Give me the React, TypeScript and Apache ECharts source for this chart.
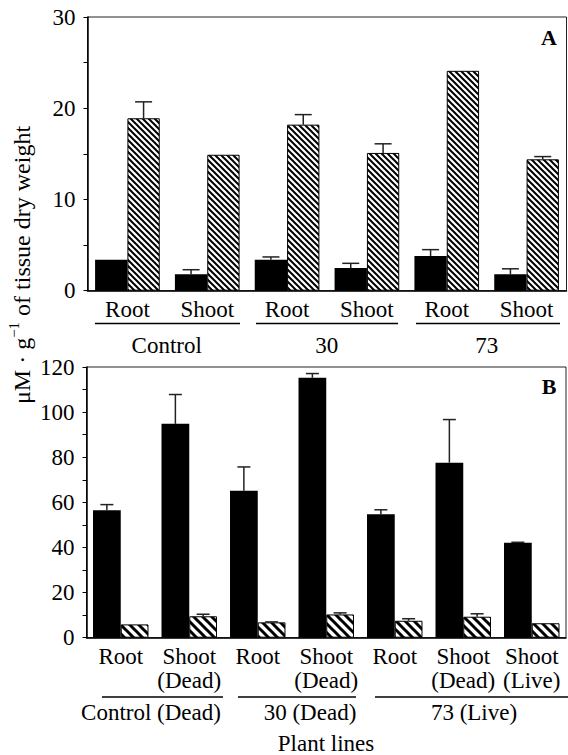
import React, { useEffect, useRef } from "react";
import * as echarts from "echarts";

// ---- Panel A data ----
const catsA = ["Root", "Shoot", "Root", "Shoot", "Root", "Shoot"];
const groupsA = ["Control", "30", "73"];
const blackA = [3.4, 1.8, 3.4, 2.5, 3.8, 1.8];
const blackErrA = [3.4, 2.3, 3.7, 3.0, 4.5, 2.4];
const hatchA = [18.9, 14.9, 18.2, 15.1, 24.1, 14.4];
const hatchErrA = [20.7, 14.9, 19.3, 16.1, 24.1, 14.7];

// ---- Panel B data ----
const catsB = ["Root", "Shoot\n(Dead)", "Root", "Shoot\n(Dead)", "Root", "Shoot\n(Dead)", "Shoot\n(Live)"];
const groupsB = ["Control (Dead)", "30 (Dead)", "73 (Live)"];
const blackB = [56.5, 94.8, 65.1, 115.2, 54.7, 77.6, 42.1];
const blackErrB = [59.0, 107.8, 75.7, 117.1, 56.7, 96.7, 42.3];
const hatchB = [5.9, 9.5, 6.8, 10.3, 7.5, 9.3, 6.4];
const hatchErrB = [5.9, 10.4, 7.0, 11.0, 8.4, 10.6, 6.4];

const yTicksA = { min: 0, max: 30, interval: 10 };
const yTicksB = { min: 0, max: 120, interval: 20 };

const FONT = "'Liberation Serif', 'Times New Roman', serif";
const FS = 23;
const GAP = 0.19;

function hatch(s: number, w: number) {
  const svg = `<svg xmlns='http://www.w3.org/2000/svg' width='${s}' height='${s}'><rect width='${s}' height='${s}' fill='white'/><path d='M${-s / 2},${s / 2} L${s / 2},${(3 * s) / 2} M0,0 L${s},${s} M${s / 2},${-s / 2} L${(3 * s) / 2},${s / 2}' stroke='black' stroke-width='${w}'/></svg>`;
  return {
    image: "data:image/svg+xml;charset=utf-8," + encodeURIComponent(svg),
    repeat: "repeat",
    imageWidth: s,
    imageHeight: s,
  } as any;
}

function errData(vals: number[], errs: number[], side: number) {
  return vals.map((v, i) => [i, v, errs[i], side]);
}

function makeErr(grid: number, data: any[], cap: number) {
  return {
    type: "custom",
    xAxisIndex: grid * 2,
    yAxisIndex: grid,
    z: 5,
    silent: true,
    encode: { x: 0, y: 1 },
    data,
    renderItem: (params: any, api: any) => {
      const idx = api.value(0);
      const v = api.value(1);
      const e = api.value(2);
      const side = api.value(3);
      if (e - v < 0.05) return null;
      const catW = api.size([1, 0])[0];
      const bw = (catW * (1 - GAP)) / 2;
      const c = api.coord([idx, v]);
      const t = api.coord([idx, e]);
      const x = c[0] + (side * bw) / 2;
      const st = { stroke: "#222", lineWidth: 1.5 };
      return {
        type: "group",
        children: [
          { type: "line", shape: { x1: x, y1: c[1], x2: x, y2: t[1] }, style: st },
          { type: "line", shape: { x1: x - cap / 2, y1: t[1], x2: x + cap / 2, y2: t[1] }, style: st },
        ],
      };
    },
  };
}

function xAxes(grid: number, cats: string[]) {
  return [
    {
      type: "category",
      gridIndex: grid,
      data: cats,
      axisLine: { lineStyle: { color: "#000", width: 1.5 } },
      axisTick: { alignWithLabel: false, length: 4, lineStyle: { color: "#000" } },
      axisLabel: { color: "#000", fontSize: FS, fontFamily: FONT, margin: 7, lineHeight: 24, interval: 0 },
    },
    {
      type: "category",
      gridIndex: grid,
      data: cats,
      axisLine: { show: false },
      axisTick: { alignWithLabel: true, length: 4, lineStyle: { color: "#000" } },
      axisLabel: { show: false },
    },
  ];
}

function yAxis(grid: number, t: { min: number; max: number; interval: number }) {
  return {
    type: "value",
    gridIndex: grid,
    min: t.min,
    max: t.max,
    interval: t.interval,
    axisLine: { show: true, lineStyle: { color: "#000", width: 1.5 } },
    axisTick: { show: true, length: 4, lineStyle: { color: "#000" } },
    minorTick: { show: true, splitNumber: 2, length: 4, lineStyle: { color: "#000" } },
    splitLine: { show: false },
    axisLabel: { color: "#000", fontSize: FS, fontFamily: FONT, margin: 12 },
  };
}

function text(x: number, y: number, t: string, size = FS, bold = false) {
  return {
    type: "text",
    x,
    y,
    style: {
      text: t,
      fontSize: size,
      fontFamily: FONT,
      fontWeight: bold ? "bold" : "normal",
      fill: "#000",
      textAlign: "center",
      textVerticalAlign: "middle",
    },
  };
}

function hline(x1: number, x2: number, y: number) {
  return { type: "line", shape: { x1, y1: y, x2, y2: y }, style: { stroke: "#000", lineWidth: 1.6 } };
}

export default function App() {
  const ref = useRef<HTMLDivElement>(null);
  useEffect(() => {
    if (!ref.current) return;
    const chart = echarts.init(ref.current, null, { renderer: "svg" });
    const patA = hatch(6, 2);
    const patB = hatch(9, 3);
    chart.setOption({
      animation: false,
      backgroundColor: "#fff",
      grid: [
        { left: 87.5, top: 17, width: 479, height: 273.7, show: true, borderColor: "#222", borderWidth: 1 },
        { left: 86.5, top: 367, width: 479.5, height: 270.7, show: true, borderColor: "#222", borderWidth: 1 },
      ],
      xAxis: [...xAxes(0, catsA), ...xAxes(1, catsB)],
      yAxis: [yAxis(0, yTicksA), yAxis(1, yTicksB)],
      series: [
        {
          type: "bar",
          xAxisIndex: 0,
          yAxisIndex: 0,
          data: blackA,
          barGap: "0%",
          barCategoryGap: GAP * 100 + "%",
          itemStyle: { color: "#000" },
        },
        {
          type: "bar",
          xAxisIndex: 0,
          yAxisIndex: 0,
          data: hatchA,
          barGap: "0%",
          barCategoryGap: GAP * 100 + "%",
          itemStyle: { color: patA, borderColor: "#000", borderWidth: 1 },
        },
        {
          type: "bar",
          xAxisIndex: 2,
          yAxisIndex: 1,
          data: blackB,
          barGap: "0%",
          barCategoryGap: GAP * 100 + "%",
          itemStyle: { color: "#000" },
        },
        {
          type: "bar",
          xAxisIndex: 2,
          yAxisIndex: 1,
          data: hatchB,
          barGap: "0%",
          barCategoryGap: GAP * 100 + "%",
          itemStyle: { color: patB, borderColor: "#000", borderWidth: 1 },
        },
        makeErr(0, errData(blackA, blackErrA, -1), 17),
        makeErr(0, errData(hatchA, hatchErrA, 1), 17),
        makeErr(1, errData(blackB, blackErrB, -1), 13),
        makeErr(1, errData(hatchB, hatchErrB, 1), 13),
      ],
      graphic: [
        text(549, 37, "A", 22, true),
        text(549, 386, "B", 22, true),
        hline(95, 240, 323.5),
        hline(256, 398, 323.5),
        hline(416, 560, 323.5),
        text(166.7, 345, groupsA[0]),
        text(326.7, 345, groupsA[1]),
        text(486.7, 345, groupsA[2]),
        hline(102, 223, 697),
        hline(238, 356, 697),
        hline(375, 568, 697),
        text(151, 712, groupsB[0]),
        text(310, 712, groupsB[1]),
        text(474, 712, groupsB[2]),
        text(326, 743, "Plant lines"),
        {
          type: "text",
          x: 22,
          y: 265,
          rotation: Math.PI / 2,
          style: {
            text: "{a|μM · g}{s|−1}{a| of tissue dry weight}",
            textAlign: "center",
            textVerticalAlign: "middle",
            fill: "#000",
            rich: {
              a: { fontSize: 24, fontFamily: FONT, lineHeight: 32, verticalAlign: "middle", fill: "#000" },
              s: { fontSize: 15, fontFamily: FONT, lineHeight: 15, verticalAlign: "top", fill: "#000" },
            },
          },
        },
      ],
    });
    return () => chart.dispose();
  }, []);
  return (
    <div
      ref={ref}
      style={{ position: "absolute", left: 0, top: 0, width: 568, height: 755, background: "#fff" }}
    />
  );
}
